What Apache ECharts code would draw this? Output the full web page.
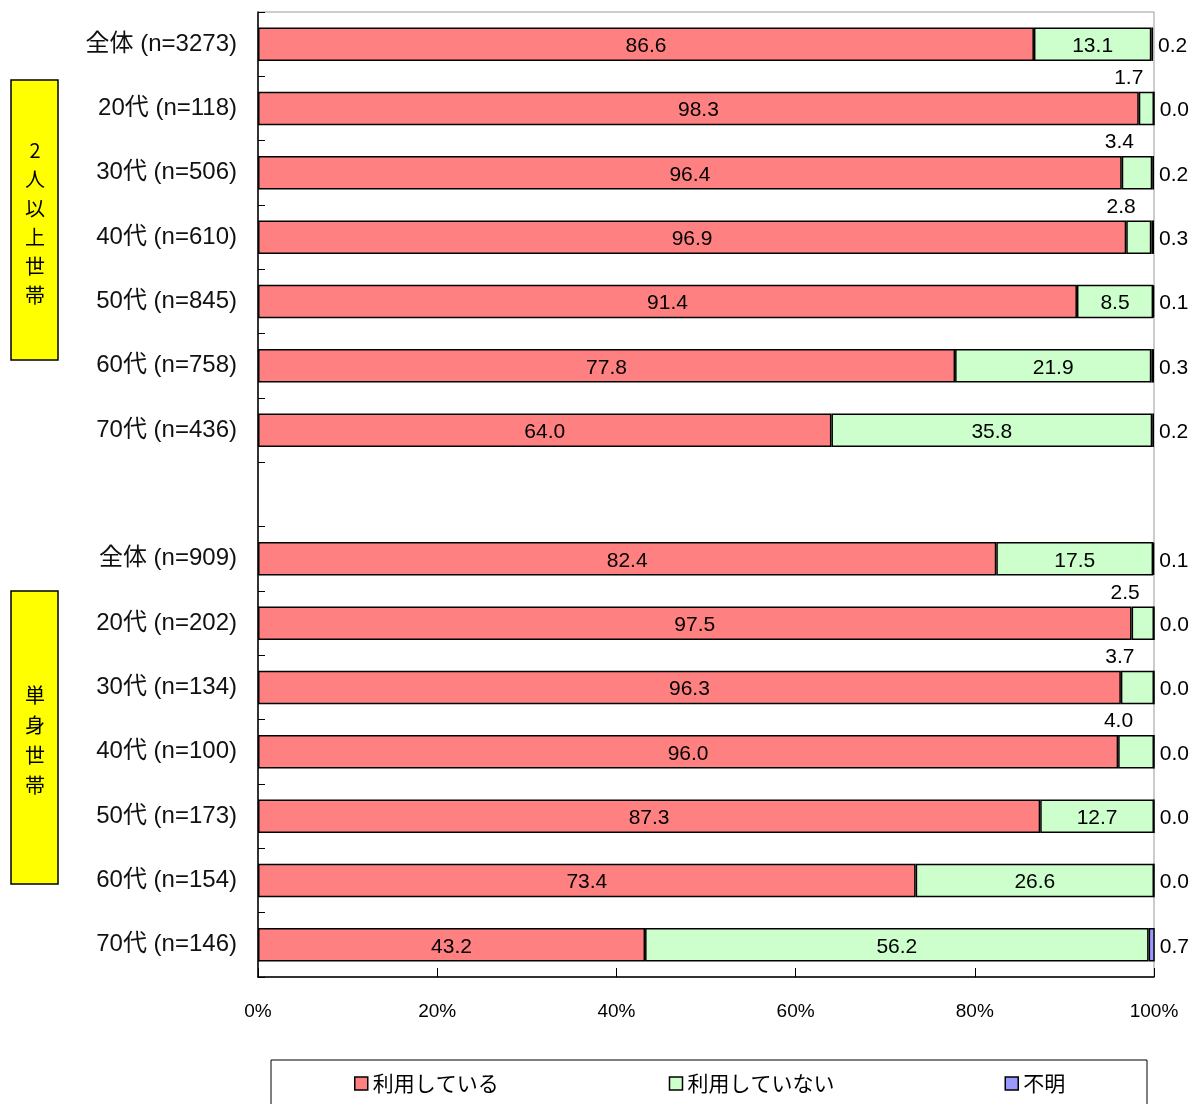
<!DOCTYPE html>
<html><head><meta charset="utf-8">
<script src="https://cdn.jsdelivr.net/npm/echarts@6/dist/echarts.min.js"></script>
<style>html,body{margin:0;padding:0;background:#fff}#c{width:1197px;height:1104px}</style>
</head><body><div id="c"></div>
<script>
var categories = ['全体 (n=3273)','20代 (n=118)','30代 (n=506)','40代 (n=610)','50代 (n=845)','60代 (n=758)','70代 (n=436)','',
  '全体 (n=909)','20代 (n=202)','30代 (n=134)','40代 (n=100)','50代 (n=173)','60代 (n=154)','70代 (n=146)'];
var using    = [86.6, 98.3, 96.4, 96.9, 91.4, 77.8, 64.0, null, 82.4, 97.5, 96.3, 96.0, 87.3, 73.4, 43.2];
var notUsing = [13.1, 1.7, 3.4, 2.8, 8.5, 21.9, 35.8, null, 17.5, 2.5, 3.7, 4.0, 12.7, 26.6, 56.2];
var unknown  = [0.2, 0.0, 0.2, 0.3, 0.1, 0.3, 0.2, null, 0.1, 0.0, 0.0, 0.0, 0.0, 0.0, 0.7];
var xTicks = [0, 20, 40, 60, 80, 100];
var seriesNames = ['利用している','利用していない','不明'];
var groupNames = ['2\n人\n以\n上\n世\n帯', '単\n身\n世\n帯'];

var numFont = "'Liberation Sans Narrow','Liberation Sans',Arial,sans-serif";
var chart = echarts.init(document.getElementById('c'));
var border = {borderColor:'#000', borderWidth:1.5};

var greenData = notUsing.map(function(v){
  if (v === null) return null;
  if (v < 6) return {value:v, label:{position:'top', align:'right', distance:3, offset:[-3,0]}};
  return v;
});
function fmt(p){ return p.value==null ? '' : Number(p.value).toFixed(1); }

chart.setOption({
  animation:false,
  grid:{left:258, right:43, top:12, bottom:127, show:true, borderColor:'#999', borderWidth:1, backgroundColor:'transparent'},
  legend:{
    data:seriesNames.map(function(n){return {name:n, icon:'rect'};}),
    left:349, top:1068, itemWidth:13, itemHeight:13, itemGap:170,
    textStyle:{fontSize:21, color:'#000', fontFamily:"'Noto Sans CJK JP',sans-serif"},
    itemStyle:{borderColor:'#000', borderWidth:1.5}
  },
  xAxis:{
    type:'value', min:xTicks[0], max:xTicks[xTicks.length-1], interval:20,
    axisLine:{show:true, lineStyle:{color:'#000', width:1.5}},
    axisTick:{show:true, inside:true, length:9, lineStyle:{color:'#000'}},
    splitLine:{show:false},
    axisLabel:{formatter:'{value}%', margin:25, fontSize:19, color:'#000', fontFamily:numFont}
  },
  yAxis:{
    type:'category', data:categories, inverse:true,
    axisLine:{show:true, lineStyle:{color:'#000', width:1.5}},
    axisTick:{show:true, inside:true, length:7, lineStyle:{color:'#000'}},
    axisLabel:{margin:21, fontSize:24, color:'#111', fontFamily:"'Liberation Sans','Noto Sans CJK JP',sans-serif"}
  },
  series:[
    {name:seriesNames[0], type:'bar', stack:'a', data:using, barWidth:'52%',
     itemStyle:Object.assign({color:'#FF8080'}, border),
     label:{show:true, position:'inside', offset:[0,2], color:'#000', fontSize:21, fontFamily:numFont, formatter:fmt}},
    {name:seriesNames[1], type:'bar', stack:'a', data:greenData,
     itemStyle:Object.assign({color:'#CCFFCC'}, border),
     label:{show:true, position:'inside', offset:[0,2], color:'#000', fontSize:21, fontFamily:numFont, formatter:fmt}},
    {name:seriesNames[2], type:'bar', stack:'a', data:unknown,
     itemStyle:Object.assign({color:'#9999FF'}, border),
     label:{show:true, position:'right', distance:5, offset:[0,2], color:'#000', fontSize:21, fontFamily:numFont, formatter:fmt}}
  ],
  graphic:[
    {type:'rect', shape:{x:271, y:1060, width:876, height:60}, style:{fill:'none', stroke:'#000', lineWidth:1}, z:-1},
    {type:'rect', shape:{x:11, y:80, width:47, height:280}, style:{fill:'#FFFF00', stroke:'#000', lineWidth:1.5}},
    {type:'text', x:35, y:223, style:{text:groupNames[0], fill:'#000', fontSize:20, lineHeight:29, align:'center', verticalAlign:'middle', fontFamily:"'Noto Sans CJK JP',sans-serif"}},
    {type:'rect', shape:{x:11, y:591, width:47, height:293}, style:{fill:'#FFFF00', stroke:'#000', lineWidth:1.5}},
    {type:'text', x:35, y:740, style:{text:groupNames[1], fill:'#000', fontSize:20, lineHeight:30, align:'center', verticalAlign:'middle', fontFamily:"'Noto Sans CJK JP',sans-serif"}}
  ]
});
</script></body></html>
